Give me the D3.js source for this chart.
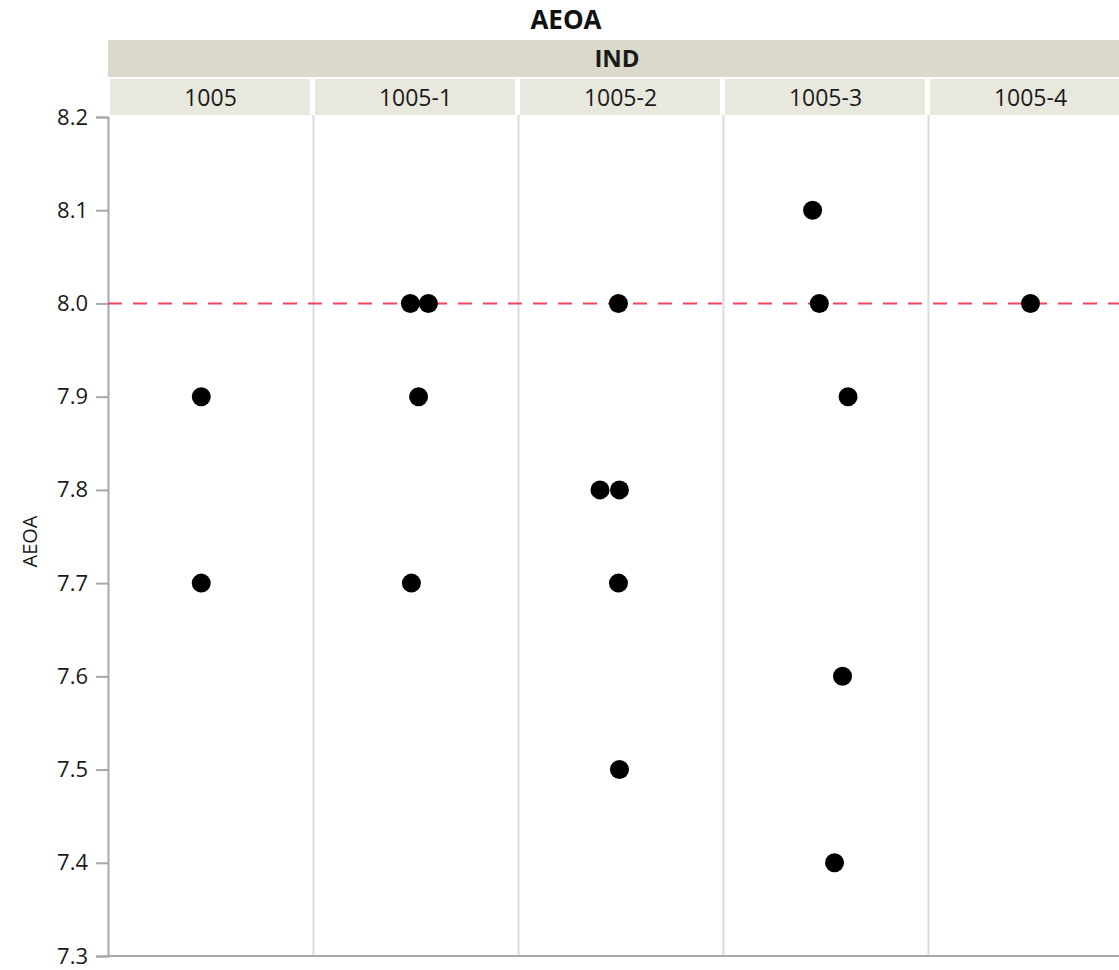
<!DOCTYPE html>
<html>
<head>
<meta charset="utf-8">
<script src="https://cdn.jsdelivr.net/npm/d3@7"></script>
<style>
  body { margin: 0; background: #fff; }
  text { font-family: "Open Sans", "Noto Sans", sans-serif; }
</style>
</head>
<body>
<svg id="chart" width="1119" height="970"></svg>
<script>
// panels and their points (jitter = offset within panel, as a fraction of panel width)
var groups = ["1005", "1005-1", "1005-2", "1005-3", "1005-4"];
var pointGroup = ["1005", "1005",
                  "1005-1", "1005-1", "1005-1", "1005-1",
                  "1005-2", "1005-2", "1005-2", "1005-2", "1005-2",
                  "1005-3", "1005-3", "1005-3", "1005-3", "1005-3",
                  "1005-4"];
var pointValue = [7.9, 7.7,
                  8.0, 8.0, 7.9, 7.7,
                  8.0, 7.8, 7.8, 7.7, 7.5,
                  8.1, 8.0, 7.9, 7.6, 7.4,
                  8.0];
var pointJitter = [-0.045, -0.045,
                   -0.025, 0.063, 0.015, -0.02,
                   -0.01, -0.1, -0.005, -0.01, -0.005,
                   -0.063, -0.03, 0.11, 0.083, 0.044,
                   0];
var yTicks = [7.3, 7.4, 7.5, 7.6, 7.7, 7.8, 7.9, 8.0, 8.1, 8.2];
var refValue = 8.0;

var svg = d3.select("#chart");
var plotLeft = 108, plotTop = 117, plotBottom = 956;
var panelW = 205;

var x = d3.scaleBand().domain(groups).range([plotLeft, plotLeft + panelW * groups.length]);
var y = d3.scaleLinear().domain([7.3, 8.2]).range([plotBottom, plotTop]);

// title
svg.append("text").attr("x", 566).attr("y", 29)
  .attr("text-anchor", "middle").style("font-size", "26px").style("font-weight", "bold")
  .attr("fill", "#111").text("AEOA");

// IND header band
svg.append("rect").attr("x", plotLeft).attr("y", 40).attr("width", 1119 - plotLeft).attr("height", 37)
  .attr("fill", "#dbd9cb");
svg.append("text").attr("x", 617).attr("y", 67)
  .attr("text-anchor", "middle").style("font-size", "24px").style("font-weight", "bold")
  .attr("fill", "#1a1a1a").text("IND");

// sub headers
svg.selectAll(".sub").data(groups).enter().append("rect")
  .attr("x", function(d){ return x(d) + 2; })
  .attr("y", 79)
  .attr("width", x.bandwidth() - 5)
  .attr("height", 36)
  .attr("fill", "#e8e8df");
svg.selectAll(".subt").data(groups).enter().append("text")
  .attr("x", function(d){ return x(d) + x.bandwidth() / 2; })
  .attr("y", 106)
  .attr("text-anchor", "middle").style("font-size", "23px").attr("fill", "#1a1a1a")
  .text(function(d){ return d; });

// panel separators
svg.selectAll(".sep").data(groups.slice(1)).enter().append("line")
  .attr("x1", function(d){ return x(d) + 0.5; })
  .attr("x2", function(d){ return x(d) + 0.5; })
  .attr("y1", plotTop - 2).attr("y2", plotBottom)
  .attr("stroke", "#dcdcdc").attr("stroke-width", 2);

// y axis
var yAxis = d3.axisLeft(y).tickValues(yTicks).tickFormat(d3.format(".1f")).tickSize(12).tickPadding(8);
var ga = svg.append("g").attr("transform", "translate(" + plotLeft + ",0)").call(yAxis);
ga.select(".domain").attr("stroke", "#a8a8a8").attr("stroke-width", 2);
ga.selectAll(".tick line").attr("stroke", "#a8a8a8").attr("stroke-width", 2);
ga.selectAll(".tick text").style("font-size", "22px").attr("fill", "#1a1a1a")
  .style("font-family", "'Open Sans', 'Noto Sans', sans-serif");

// bottom axis line
svg.append("line").attr("x1", plotLeft).attr("x2", 1119).attr("y1", plotBottom).attr("y2", plotBottom)
  .attr("stroke", "#a8a8a8").attr("stroke-width", 2);

// y label
svg.append("text").attr("transform", "translate(37," + ((plotTop + plotBottom) / 2 + 5) + ") rotate(-90)")
  .attr("text-anchor", "middle").style("font-size", "20px").attr("fill", "#1a1a1a").text("AEOA");

// reference line
svg.append("line").attr("x1", plotLeft).attr("x2", 1119)
  .attr("y1", y(refValue)).attr("y2", y(refValue))
  .attr("stroke", "#f0445f").attr("stroke-width", 2).attr("stroke-dasharray", "14,11");

// points
svg.selectAll(".pt").data(pointValue).enter().append("circle")
  .attr("cx", function(d, i){ return x(pointGroup[i]) + x.bandwidth() * (0.5 + pointJitter[i]); })
  .attr("cy", function(d){ return y(d); })
  .attr("r", 9.5)
  .attr("fill", "#000");
</script>
</body>
</html>
